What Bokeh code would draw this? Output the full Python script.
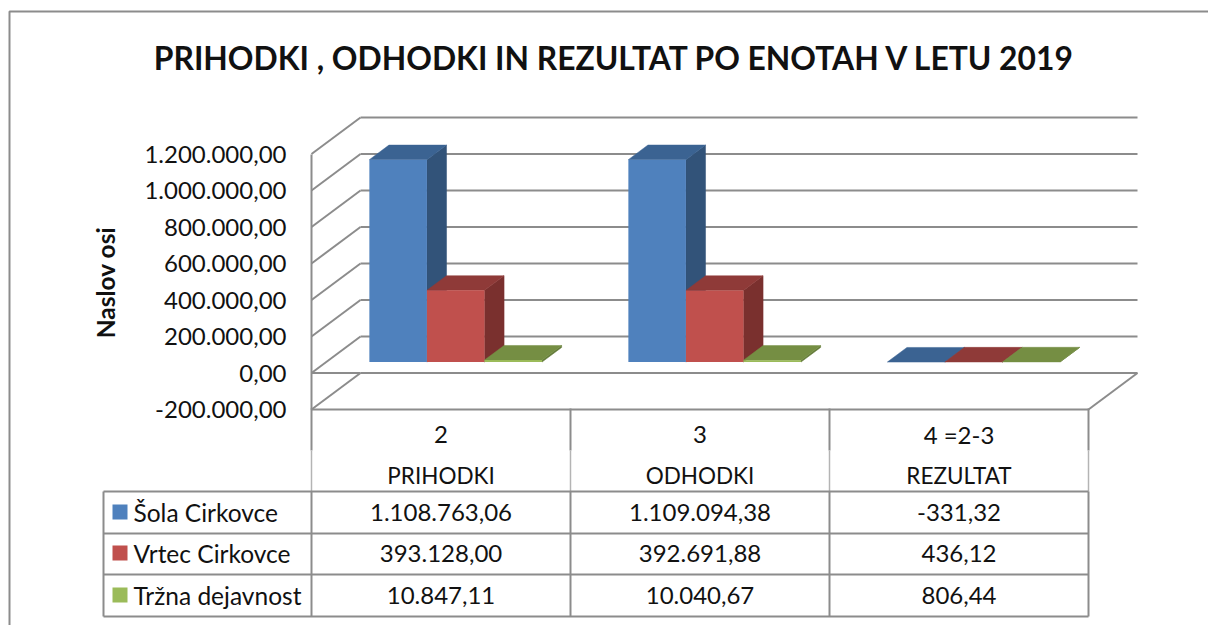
from bokeh.plotting import figure
from bokeh.embed import file_html
from bokeh.resources import INLINE
from bokeh.core.properties import value
from bokeh.models import FixedTicker

title_text = "PRIHODKI , ODHODKI IN REZULTAT PO ENOTAH V LETU 2019"
axis_title = "Naslov osi"
categories_top = ["2", "3", "4 =2-3"]
categories_bottom = ["PRIHODKI", "ODHODKI", "REZULTAT"]
series_names = ["Šola Cirkovce", "Vrtec Cirkovce", "Tržna dejavnost"]
sola = [1108763.06, 1109094.38, -331.32]
vrtec = [393128.00, 392691.88, 436.12]
trzna = [10847.11, 10040.67, 806.44]
y_ticks = [-200000, 0, 200000, 400000, 600000, 800000, 1000000, 1200000]
y_labels = ["-200.000,00", "0,00", "200.000,00", "400.000,00", "600.000,00",
            "800.000,00", "1.000.000,00", "1.200.000,00"]
front = ["#4F81BD", "#C0504D", "#9BBB59"]
top = ["#3B6392", "#8F3A38", "#758E43"]
side = ["#325379", "#7A302E", "#637A39"]
GRID = "#8C8C8C"
FONT = "Lato"
TXT = "#111111"


def fmt(v):
    s = f"{abs(v):,.2f}".replace(",", "#").replace(".", ",").replace("#", ".")
    return ("-" if v < 0 else "") + s


# page pixel <-> data helpers (category units and value units)
CAT = 259.0
STEP = 36.5
def sx(px):
    return (px - 311) / CAT
def vy(py):
    return (372.5 - py) / STEP * 200000

DX = 49 / CAT      # full depth of the 3D box in category units
DY = 200000        # full depth of the 3D box in value units
F0, F1 = 0.3, 0.7  # bar depth band
BAR = 1 / 4.5
GAP = 0.75 * BAR

p = figure(width=1208, height=625, toolbar_location=None, output_backend="svg",
           x_range=(sx(0), sx(1208)), y_range=(vy(625), vy(0)),
           min_border=0, min_border_left=0, min_border_right=0,
           min_border_top=0, min_border_bottom=0)
p.outline_line_color = None
p.grid.visible = False
p.xaxis.visible = False
ax = p.yaxis[0]
ax.fixed_location = 0
ax.bounds = (y_ticks[0], y_ticks[-1])
ax.ticker = FixedTicker(ticks=y_ticks)
ax.major_label_overrides = {t: l for t, l in zip(y_ticks, y_labels)}
ax.major_tick_in = 0
ax.major_tick_out = 0
ax.minor_tick_in = 0
ax.minor_tick_out = 0
ax.major_label_standoff = 25
ax.major_label_text_font = FONT
ax.major_label_text_font_size = "24px"
ax.major_label_text_color = TXT
ax.axis_line_color = GRID
ax.axis_line_width = 2

# outer chart border
p.line([sx(9), sx(9), sx(1208)], [vy(625), vy(11), vy(11)], line_color="#8C8C8C", line_width=2)

# walls and floor
ymin, ymax = y_ticks[0], y_ticks[-1]
for t in y_ticks:
    p.line([0, DX], [t, t + DY], line_color=GRID, line_width=2)
    p.line([DX, 3 + DX], [t + DY, t + DY], line_color=GRID, line_width=2)
p.line([0, DX], [0, 0], line_color=GRID, line_width=2)
p.line([3, 3 + DX], [ymin, ymin + DY], line_color=GRID, line_width=2)

# 3D bars
for s, vals in enumerate([sola, vrtec, trzna]):
    for c, v in enumerate(vals):
        x0 = c + GAP + s * BAR + F0 * DX
        x1 = x0 + BAR
        ddx, ddy = (F1 - F0) * DX, (F1 - F0) * DY
        yb = F0 * DY
        yt = yb + max(v, 0)
        # side face
        p.patch([x1, x1 + ddx, x1 + ddx, x1], [yb, yb + ddy, yt + ddy, yt],
                fill_color=side[s], line_color=side[s], line_width=0.5)
        # top face
        p.patch([x0, x1, x1 + ddx, x0 + ddx], [yt, yt, yt + ddy, yt + ddy],
                fill_color=top[s], line_color=top[s], line_width=0.5)
        # front face
        p.quad(left=x0, right=x1, bottom=yb, top=yt, fill_color=front[s], line_color=None)

# data table lines
p.line([0, 3], [ymin, ymin], line_color=GRID, line_width=2)
for px in [311, 570, 829, 1088]:
    p.line([sx(px), sx(px)], [vy(408), vy(450)], line_color=GRID, line_width=2)
    p.line([sx(px), sx(px)], [vy(450), vy(491)], line_color="#B4B4B4", line_width=1.5)
    p.line([sx(px), sx(px)], [vy(491), vy(616)], line_color=GRID, line_width=2)
for py in [491, 533, 574, 616]:
    p.line([sx(103), sx(1088)], [vy(py), vy(py)], line_color=GRID, line_width=2)
p.line([sx(103), sx(103)], [vy(491), vy(616)], line_color=GRID, line_width=2)

# table text
def txt(px, py, s, align="center", size="24px", bold=False, angle=0):
    p.text([sx(px)], [vy(py)], text=[s], text_font=value(FONT), text_font_size=value(size),
           text_align=align, text_baseline="middle", text_color=TXT, angle=angle,
           text_font_style="bold" if bold else "normal")

centers = [440.5, 699.5, 958.5]
for i, cx in enumerate(centers):
    txt(cx, 434, categories_top[i])
    txt(cx, 475, categories_bottom[i], size="22.5px")
rows = [512, 553, 595]
for r, vals in enumerate([sola, vrtec, trzna]):
    p.quad(left=sx(112), right=sx(127), top=vy(rows[r] - 8), bottom=vy(rows[r] + 7),
           fill_color=front[r], line_color=None)
    txt(133, rows[r], series_names[r], align="left", size="24.5px")
    for i, cx in enumerate(centers):
        txt(cx, rows[r], fmt(vals[i]))

# titles
txt(614.5, 57, title_text, size="31.8px", bold=True)
txt(105, 282, axis_title, size="24.5px", bold=True, angle=1.5708)

open("out.html", "w").write(file_html(p, INLINE))
